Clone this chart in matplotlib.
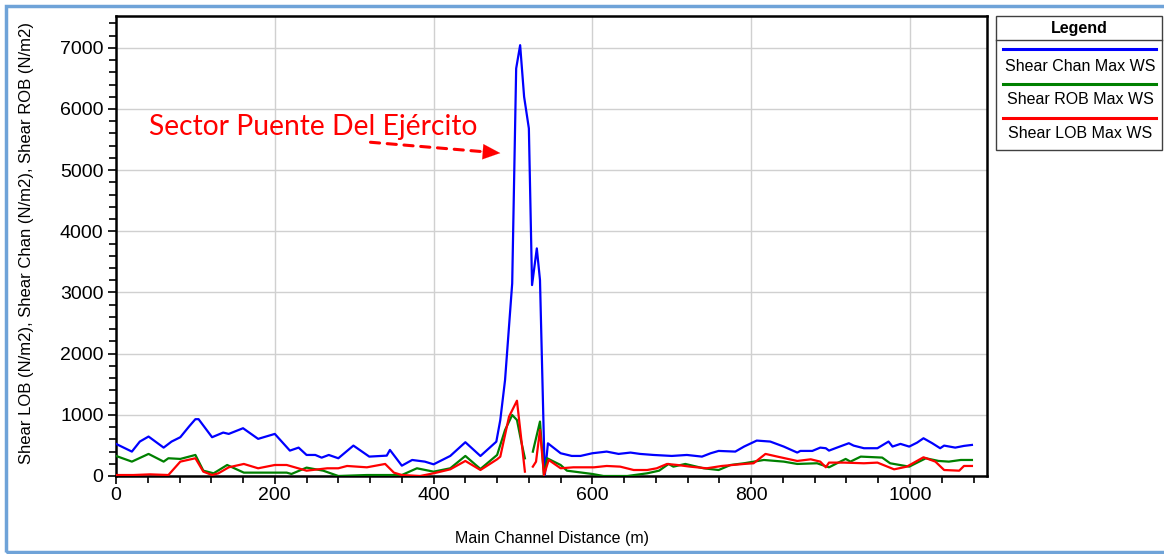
import numpy as np
import matplotlib
matplotlib.use("Agg")
import matplotlib.pyplot as plt
from matplotlib.lines import Line2D
from matplotlib.patches import Rectangle
from matplotlib.ticker import MultipleLocator

nan = np.nan

# ---------------- data ----------------
chan_x = [0, 20, 30, 41, 60, 70, 81, 92, 100, 104, 121, 135, 142, 160, 179, 200, 219, 230, 240, 251,
          259, 268, 280, 299, 319, 341, 345, 360, 373, 389, 400, 421, 440, 459, 479, 484, 490, 499,
          504, 509, 514, 520, 524, 530, 534, 540, 544, 560, 574, 585, 600, 618, 633, 648, 660, 677,
          700, 719, 738, 749, 759, 780, 791, 807, 824, 841, 858, 862, 877, 887, 894, 898, 908, 923,
          929, 942, 959, 973, 978, 988, 999, 1009, 1017, 1028, 1038, 1043, 1057, 1068, 1078]
chan_v = [525, 399, 563, 645, 464, 563, 634, 809, 929, 929, 634, 710, 688, 781, 607, 688, 415, 464, 344, 344,
          300, 344, 290, 497, 317, 333, 426, 169, 262, 235, 191, 328, 552, 327, 561, 915, 1569, 3149,
          6662, 7043, 6200, 5682, 3121, 3721, 3203, 0, 534, 372, 328, 328, 372, 399, 361, 383, 361, 344,
          328, 344, 317, 372, 410, 399, 481, 579, 563, 481, 383, 410, 410, 464, 454, 415, 464, 536,
          497, 454, 454, 563, 481, 525, 481, 546, 617, 536, 454, 497, 464, 492, 508]

rob_x = [0, 20, 41, 60, 66, 81, 100, 110, 123, 140, 161, 182, 215, 221, 240, 261, 280, 316, 341, 360,
         379, 400, 421, 440, 459, 480, 490, 499, 505, 510, 515, 519, 525, 534, 539, 543, 560, 568, 600,
         614, 644, 669, 684, 696, 702, 717, 740, 759, 774, 791, 816, 841, 858, 883, 898, 908, 919, 925,
         938, 965, 975, 999, 1020, 1036, 1049, 1064, 1078]
rob_v = [328, 235, 361, 235, 290, 279, 344, 87, 44, 180, 55, 55, 55, 33, 137, 87, 0, 16, 16, 16,
         126, 71, 126, 328, 115, 344, 752, 997, 915, 588, 289, nan, 398, 890, 0, 290, 180, 87, 33,
         0, 0, 44, 87, 197, 153, 197, 126, 98, 180, 208, 262, 235, 197, 208, 142, 208, 279, 235,
         317, 301, 208, 153, 290, 246, 235, 262, 262]

lob_x = [0, 22, 43, 66, 81, 100, 110, 121, 129, 142, 161, 179, 200, 215, 240, 266, 280, 291, 316, 339,
         350, 360, 383, 400, 421, 440, 459, 480, 484, 495, 505, 515, 519, 525, 529, 534, 539, 545, 560,
         576, 602, 618, 635, 652, 669, 681, 694, 707, 723, 744, 763, 791, 803, 818, 833, 858, 875, 887,
         894, 898, 917, 942, 959, 980, 996, 1017, 1032, 1043, 1062, 1068, 1078]
lob_v = [16, 16, 27, 16, 235, 290, 71, 16, 44, 142, 197, 126, 180, 180, 87, 126, 126, 164, 142, 197,
         55, 16, 0, 44, 109, 246, 98, 273, 316, 970, 1231, 71, nan, 153, 234, 754, 16, 262, 126,
         142, 142, 164, 153, 98, 98, 126, 197, 180, 153, 126, 164, 197, 208, 361, 317, 246, 273, 235,
         142, 219, 219, 208, 219, 109, 153, 306, 235, 98, 87, 164, 164]

series_names = ["Shear Chan Max WS", "Shear ROB Max WS", "Shear LOB Max WS"]
series_colors = ["#0000ff", "#008000", "#ff0000"]
annot_text = "Sector Puente Del Ejército"
x_label = "Main Channel Distance (m)"
y_label = "Shear LOB (N/m2), Shear Chan (N/m2), Shear ROB (N/m2)"

# ---------------- figure ----------------
W, H = 1164, 554
fig = plt.figure(figsize=(W / 100, H / 100), dpi=100)
fig.patch.set_facecolor("white")
plt.rcParams["font.family"] = ["Liberation Sans", "DejaVu Sans"]


def fx(px):
    return px / W


def fy(py):
    return 1 - py / H


ax = fig.add_axes([fx(116), fy(476), fx(987) - fx(116), fy(16) - fy(476)])

ax.plot(chan_x, chan_v, color=series_colors[0], lw=1.6, zorder=3)
ax.plot(rob_x, rob_v, color=series_colors[1], lw=1.6, zorder=3)
ax.plot(lob_x, lob_v, color=series_colors[2], lw=1.6, zorder=3)

ax.set_xlim(0, 1097)
ax.set_ylim(0, 7520)
ax.xaxis.set_major_locator(MultipleLocator(200))
ax.xaxis.set_minor_locator(MultipleLocator(40))
ax.yaxis.set_major_locator(MultipleLocator(1000))
ax.yaxis.set_minor_locator(MultipleLocator(200))
ax.grid(True, which="major", color="#d0d0d0", lw=1.0, zorder=0)
for s in ax.spines.values():
    s.set_linewidth(1.8)
    s.set_color("black")
ax.tick_params(which="major", length=6, width=1.2, direction="out", labelsize=14, pad=3)
ax.tick_params(which="minor", length=5, width=1.2, direction="out")
ax.tick_params(axis="x", which="major", pad=2)

fig.text(fx(552), fy(539), x_label, ha="center", va="center", fontsize=11.5)
fig.text(fx(27), fy(243), y_label, ha="center", va="center", rotation=90, fontsize=12)

# annotation
ax.text(41.6, 5700, annot_text, color="#ff0000", fontsize=20.3, family=["Lato", "DejaVu Sans"],
        ha="left", va="center")
ax.annotate("", xy=(464, 5300), xytext=(317, 5460),
            arrowprops=dict(arrowstyle="-", color="#ff0000", lw=2.2, ls=(0, (3, 2.5))))
ax.annotate("", xy=(484, 5279), xytext=(458, 5305),
            arrowprops=dict(arrowstyle="-|>,head_length=1.25,head_width=0.55", color="#ff0000",
                            lw=0.1, shrinkA=0, shrinkB=0))

# legend box (manual)
fig.add_artist(Rectangle((fx(996), fy(150)), fx(1162) - fx(996), fy(16) - fy(150),
                         transform=fig.transFigure, fill=False, edgecolor="#404040", lw=1.0))
fig.add_artist(Line2D([fx(996), fx(1162)], [fy(40), fy(40)], transform=fig.transFigure,
                      color="#404040", lw=1.0))
fig.text(fx(1079), fy(28), "Legend", ha="center", va="center", fontsize=11.5, fontweight="bold")
for name, col, ly, ty in zip(series_names, series_colors, [49, 84, 118], [67, 100, 134]):
    fig.add_artist(Line2D([fx(1003), fx(1156)], [fy(ly), fy(ly)], transform=fig.transFigure,
                          color=col, lw=2.2))
    fig.text(fx(1080), fy(ty), name, ha="center", va="center", fontsize=11.5)

# outer blue frame
fig.add_artist(Rectangle((fx(6), fy(552)), fx(1180) - fx(6), fy(6) - fy(552),
                         transform=fig.transFigure, fill=False, edgecolor="#6fa3d8", lw=2.5))

fig.savefig("out.png", dpi=100)
